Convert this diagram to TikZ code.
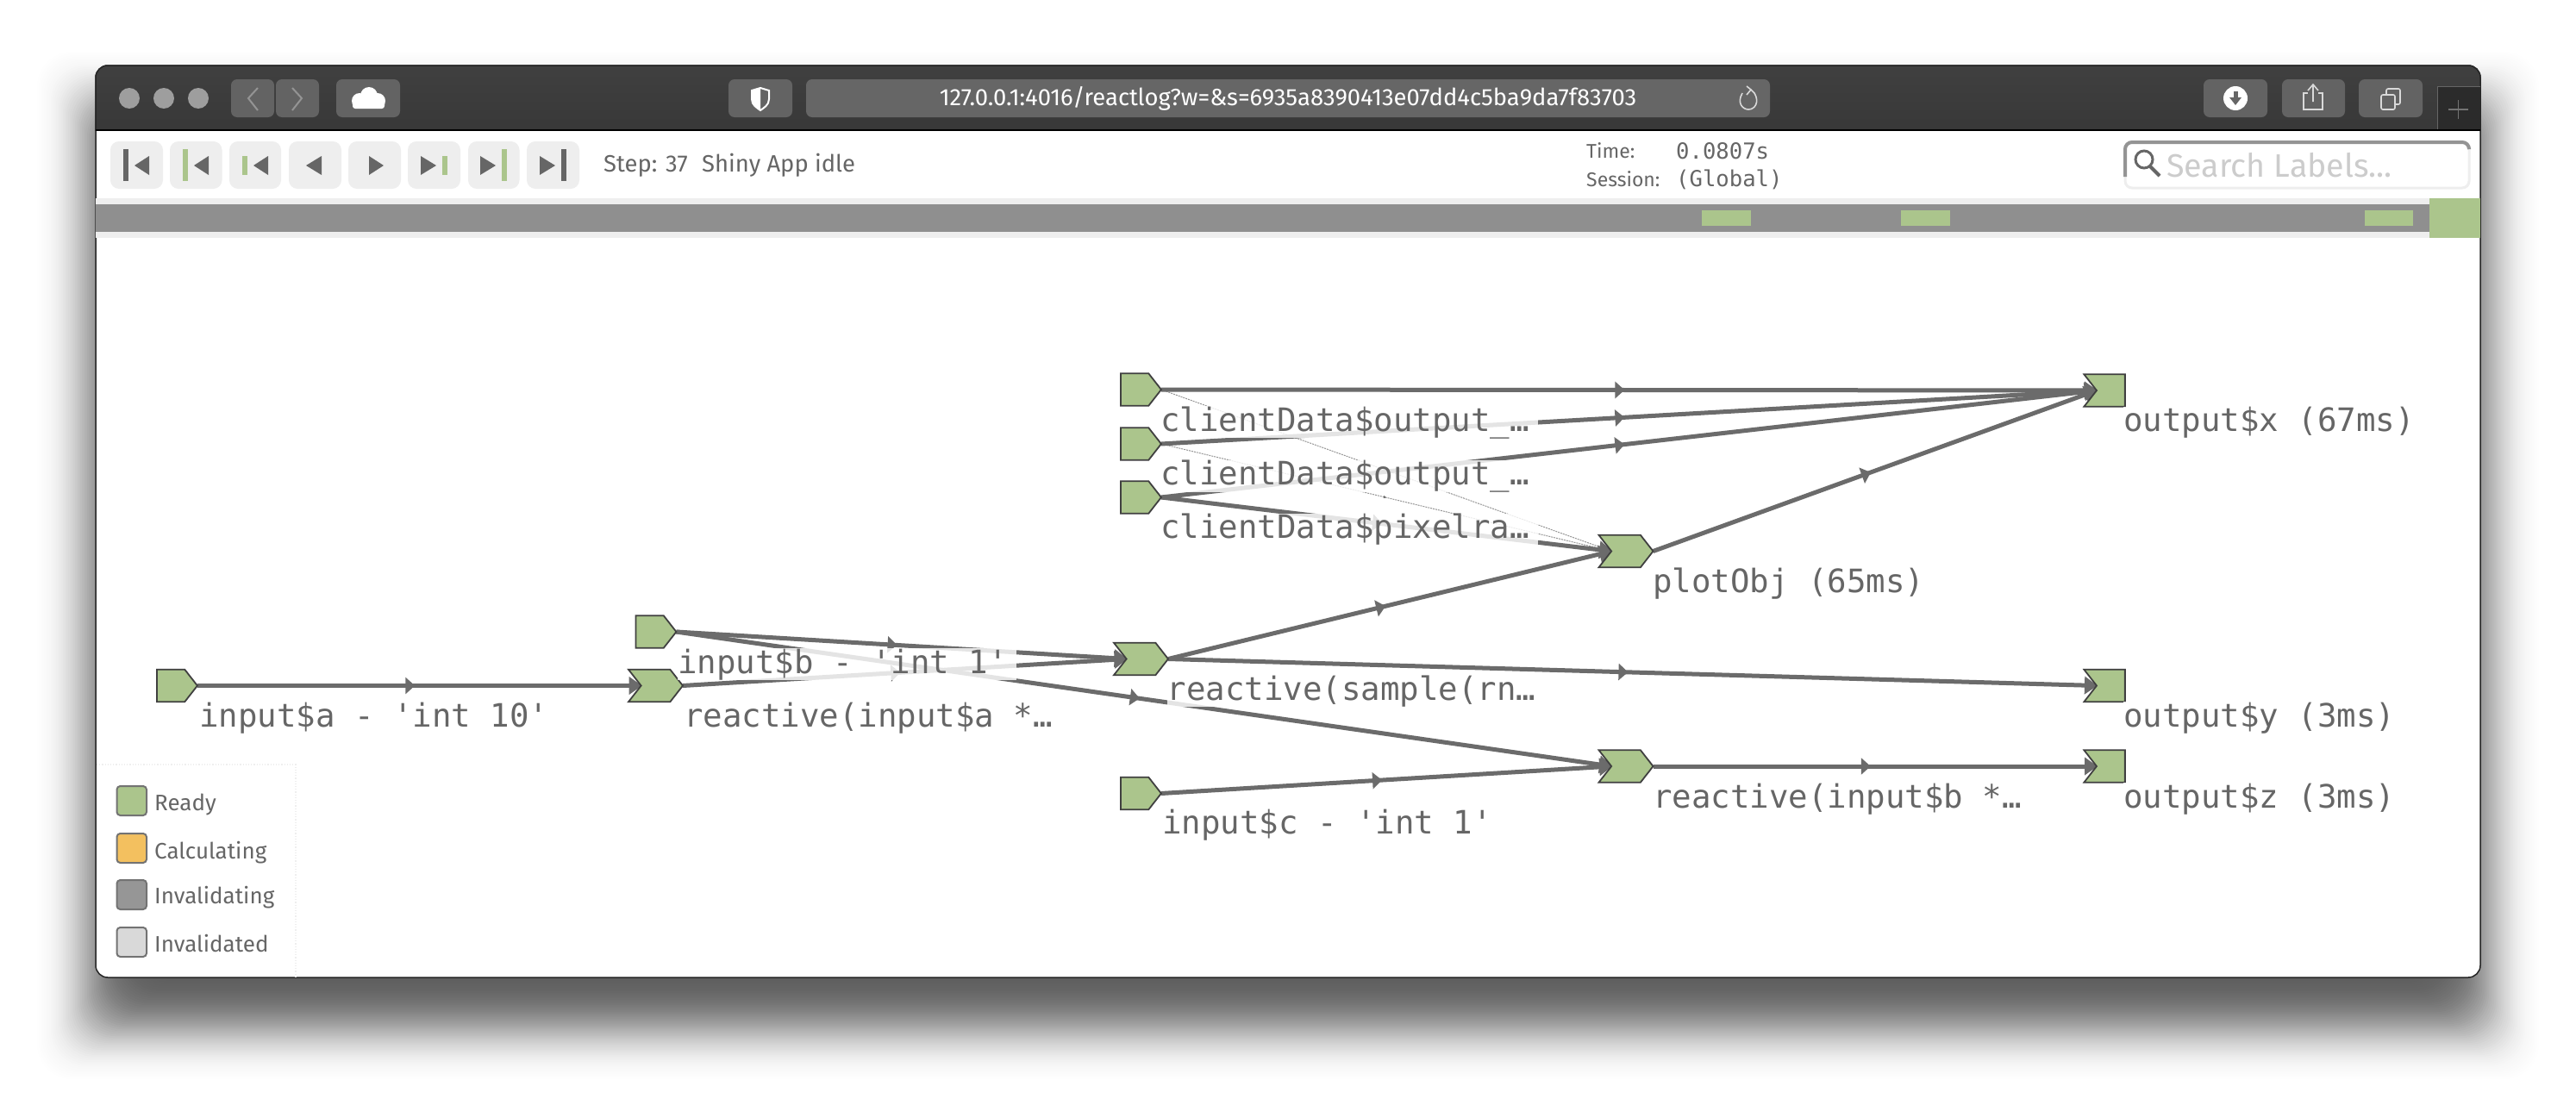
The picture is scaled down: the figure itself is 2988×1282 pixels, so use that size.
\documentclass[tikz,border=0pt]{standalone}
\usepackage{fontspec}
\setmainfont{Fira Sans}
\newfontfamily\uifont{Fira Sans}
\newfontfamily\monofont{DejaVu Sans Mono}
\usetikzlibrary{arrows.meta,shapes.symbols,decorations.markings}
\definecolor{rxgreen}{HTML}{ABC58C}
\definecolor{rxedge}{HTML}{6B6B6B}
\definecolor{rxtext}{HTML}{666666}
\definecolor{rxbtn}{HTML}{EEEEEE}
\definecolor{rxicon}{HTML}{666666}
\definecolor{chromebtn}{HTML}{636363}
\pgfdeclarelayer{bg}
\pgfdeclarelayer{edges}
\pgfsetlayers{bg,edges,main}
\tikzset{
  x=1pt,y=-1pt,
  rxbase/.style={shape=signal,draw=black!75,line width=1.8pt,fill=rxgreen,signal pointer angle=104,minimum height=37.5pt,inner sep=0pt,outer sep=0pt},
  srcnode/.style={rxbase,signal from=nowhere,signal to=east,minimum width=47pt,xshift=-7.4pt},
  midnode/.style={rxbase,signal from=west,signal to=east,minimum width=63pt},
  outnode/.style={rxbase,signal from=west,signal to=nowhere,minimum width=47.5pt,xshift=7.4pt},
  rxlabel/.style={anchor=base west,inner sep=0pt,outer sep=0pt,fill=white,fill opacity=.82,text opacity=1,text=rxtext,text height=29pt,text depth=8pt,font=\monofont\fontsize{37.4}{40}\selectfont},
  thick edge/.style={draw=rxedge,line width=5pt,-{Triangle[length=15pt,width=20pt]},shorten >=-1pt,
    postaction={decorate,decoration={markings,mark=at position .5 with {\pgftransformxshift{-5pt}\arrow[rxedge]{Triangle[length=11pt,width=19pt]}}}}},
  thin edge/.style={draw=rxedge!70,line width=1pt,dash pattern=on 2pt off 1pt,-{Triangle[length=6pt,width=5pt]},
    postaction={decorate,decoration={markings,mark=at position .5 with {\arrow[rxedge]{Triangle[length=3pt,width=3pt]}}}}},
  barbtn/.style={fill=rxbtn,rounded corners=10pt},
  chromeb/.style={fill=chromebtn,rounded corners=7pt},
  swatch/.style={draw=black!55,line width=2pt,rounded corners=4pt},
  legendtxt/.style={anchor=west,inner sep=0pt,text=rxtext,font=\uifont\fontsize{26}{30}\selectfont},
  smalltxt/.style={anchor=west,inner sep=0pt,text=rxtext,font=\uifont\fontsize{23}{26}\selectfont},
  smallmono/.style={anchor=west,inner sep=0pt,text=rxtext,font=\monofont\fontsize{25.6}{28}\selectfont},
}
\begin{document}
\begin{tikzpicture}
\useasboundingbox (0,0) rectangle (2988,1282);
\begin{pgfonlayer}{bg}
% shadow: gaussian-weighted stack
\foreach \e in {90,88,...,-90}{
  \pgfmathsetmacro{\sa}{0.0276*exp(-(\e*\e)/(2*30*30))}
  \fill[black,opacity=\sa,rounded corners=40pt] ({111-\e},{128-\e}) rectangle ({2877+\e},{1184+\e});
}
% window
\fill[white,draw=black!85,line width=1.5pt,rounded corners=14pt] (111,76) rectangle (2877,1134);
\path[top color=black!75,bottom color=black!78,draw=black!85,line width=1.5pt]
  (111,151) [rounded corners=14pt] -- (111,76) -- (2877,76) [sharp corners] -- (2877,151) -- cycle;
\foreach \px in {150,190,230}{ \fill[black!38] (\px,114) circle[radius=12]; }
\fill[chromeb] (268,92) rectangle (318,136);
\fill[chromeb] (320,92) rectangle (370,136);
\draw[black!42,line width=2pt] (299,102) -- (288,114) -- (299,128);
\draw[black!42,line width=2pt] (339,102) -- (350,114) -- (339,128);
\fill[chromeb] (390,92) rectangle (464,136);
\fill[white] (417,117) circle[radius=9];
\fill[white] (428,111) circle[radius=10];
\fill[white] (438,117) circle[radius=9];
\fill[white,rounded corners=3pt] (409,117) rectangle (446,126);
\fill[chromeb] (845,92) rectangle (919,136);
\draw[white,line width=2pt,fill=chromebtn] (882,102) -- (892,105) -- (892,115) .. controls (892,122) and (886,125) .. (882,128) .. controls (878,125) and (872,122) .. (872,115) -- (872,105) -- cycle;
\fill[white] (882,102) -- (872,105) -- (872,115) .. controls (872,122) and (878,125) .. (882,128) -- cycle;
\fill[black!60,rounded corners=7pt] (935,92) rectangle (2053,136);
\draw[white!85!black,line width=1.6pt] (2021,108) .. controls (2014,120) and (2022,127) .. (2028,127) .. controls (2036,127) and (2041,118) .. (2035,108) -- (2031,104);
\draw[white!85!black,line width=1.6pt] (2026,100) -- (2031,104) -- (2026,110);
\fill[chromeb] (2556,92) rectangle (2630,136);
\fill[white] (2593,114) circle[radius=14];
\fill[black!60] (2590.5,106) rectangle (2595.5,114);
\fill[black!60] (2586,113) -- (2600,113) -- (2593,122) -- cycle;
\fill[chromeb] (2647,92) rectangle (2720,136);
\draw[white!85!black,line width=1.6pt] (2677,108) -- (2672,108) -- (2672,127) -- (2694,127) -- (2694,108) -- (2689,108);
\draw[white!85!black,line width=1.6pt] (2683,118) -- (2683,99) (2677,105) -- (2683,98) -- (2689,105);
\fill[chromeb] (2736,92) rectangle (2810,136);
\draw[white!85!black,line width=1.6pt,rounded corners=2pt] (2762,110) rectangle (2778,127);
\draw[white!85!black,line width=1.6pt,rounded corners=2pt] (2768,110) -- (2768,103) -- (2784,103) -- (2784,121) -- (2778,121);
\fill[black!83] (2827,100) rectangle (2877,151);
\draw[black!60,line width=1pt] (2877,100) -- (2827,100) -- (2827,151);
\draw[black!55,line width=1.2pt] (2840,127) -- (2863,127) (2851.5,116) -- (2851.5,138);
\draw[black,line width=1.5pt] (111,151) -- (2877,151);
% toolbar buttons
\foreach \l/\r in {128/189,197/257.5,266/326,335/396,404/465,473/534,543/602.5,611/672}{
  \fill[barbtn] (\l,164) rectangle (\r,219);
}
\fill[rxicon] (143,173) rectangle (149,210);
\fill[rxicon] (173,181) -- (173,203) -- (156,192) -- cycle;
\fill[rxgreen] (212,173) rectangle (218,210);
\fill[rxicon] (242,181) -- (242,203) -- (225,192) -- cycle;
\fill[rxgreen] (281,181) rectangle (287,203);
\fill[rxicon] (311,181) -- (311,203) -- (294,192) -- cycle;
\fill[rxicon] (373,181) -- (373,203) -- (355,192) -- cycle;
\fill[rxicon] (428,181) -- (428,203) -- (445,192) -- cycle;
\fill[rxicon] (488,181) -- (488,203) -- (506,192) -- cycle;
\fill[rxgreen] (513,181) rectangle (519,203);
\fill[rxicon] (557,181) -- (557,203) -- (575,192) -- cycle;
\fill[rxgreen] (582,173) rectangle (588,210);
\fill[rxicon] (626,181) -- (626,203) -- (644,192) -- cycle;
\fill[rxicon] (651,173) rectangle (657,210);
% search box
\draw[rxbtn,line width=3pt,rounded corners=8pt] (2465,165) rectangle (2864,218);
\draw[black!42,line width=4pt,rounded corners=8pt] (2465,205) -- (2465,165) -- (2864,165) -- (2864,172);
\draw[rxicon,line width=3pt] (2487,185) circle[radius=10];
\draw[rxicon,line width=4pt] (2494,193) -- (2505,204);
% timeline
\fill[rxbtn] (111,230) rectangle (2877,276);
\fill[black!44] (111,237) rectangle (2818,269);
\fill[rxgreen] (2818,230) rectangle (2877,276);
\fill[rxgreen] (1974,244) rectangle (2031,262);
\fill[rxgreen] (2204.5,244) rectangle (2262,262);
\fill[rxgreen] (2743,244) rectangle (2799,262);
% legend frame
\draw[rxbtn,line width=1.2pt,dotted] (112,887) -- (343,887) -- (343,1133);
\draw[swatch,fill=rxgreen] (135.5,912) rectangle (170,946);
\draw[swatch,fill={rgb,255:red,243;green,192;blue,95}] (135.5,967) rectangle (170,1001);
\draw[swatch,fill=black!41] (135.5,1021) rectangle (170,1055);
\draw[swatch,fill=black!15] (135.5,1076) rectangle (170,1110);
\end{pgfonlayer}

% chrome text
\node[anchor=center,inner sep=0pt,text=white,font=\uifont\fontsize{27.4}{30}\selectfont] (url) at (1494,114) {127.0.0.1:4016/reactlog?w=\&s=6935a8390413e07dd4c5ba9da7f83703};
\node[legendtxt,font=\uifont\fontsize{27.4}{30}\selectfont] (steptxt) at (700,192) {Step: 37\hspace{.6em}Shiny App idle};
\node[smalltxt] (timelab) at (1840,175) {Time:};
\node[smallmono] (timeval) at (1944,175) {0.0807s};
\node[smalltxt] (seslab) at (1840,208) {Session:};
\node[smallmono] (sesval) at (1944,208) {(Global)};
\node[anchor=west,inner sep=0pt,text=black!20,font=\uifont\fontsize{37.6}{40}\selectfont] (search) at (2513,192) {Search Labels...};
\node[legendtxt] (lgready) at (179,934) {Ready};
\node[legendtxt] (lgcalc) at (179,989) {Calculating};
\node[legendtxt] (lginvg) at (179,1041) {Invalidating};
\node[legendtxt] (lginvd) at (179,1095) {Invalidated};

% graph nodes
\node[srcnode] (ia) at (205.5,795.5) {};
\node[srcnode] (ib) at (761,733) {};
\node[srcnode] (ic) at (1323.5,920.5) {};
\node[srcnode] (c1) at (1323.5,452) {};
\node[srcnode] (c2) at (1323.5,515) {};
\node[srcnode] (c3) at (1323.5,577) {};
\node[midnode] (ra) at (760.5,795.5) {};
\node[midnode] (rs) at (1323.5,764.5) {};
\node[midnode] (po) at (1886,639.5) {};
\node[midnode] (rb) at (1886,889) {};
\node[outnode] (ox) at (2441,453) {};
\node[outnode] (oy) at (2441,795.5) {};
\node[outnode] (oz) at (2441,889) {};

% edges
\begin{pgfonlayer}{edges}
\draw[thin edge] (c1.east) -- (po.west);
\draw[thin edge] (c2.east) -- (po.west);
\draw[thick edge] (c1.east) -- (ox.west);
\draw[thick edge] (c2.east) -- (ox.west);
\draw[thick edge] (c3.east) -- (ox.west);
\draw[thick edge] (c3.east) -- (po.west);
\draw[thick edge] (po.east) -- (ox.west);
\draw[thick edge] (ia.east) -- (ra.west);
\draw[thick edge] (ib.east) -- (rs.west);
\draw[thick edge] (ra.east) -- (rs.west);
\draw[thick edge] (ib.east) -- (rb.west);
\draw[thick edge] (rs.east) -- (po.west);
\draw[thick edge] (rs.east) -- (oy.west);
\draw[thick edge] (ic.east) -- (rb.west);
\draw[thick edge] (rb.east) -- (oz.west);
\end{pgfonlayer}

% graph labels
\node[rxlabel] (lia) at (231,843) {input\$a - 'int 10'\kern10pt};
\node[rxlabel] (lib) at (786,781) {input\$b - 'int 1'\kern10pt};
\node[rxlabel] (lra) at (793,843.5) {reactive(input\$a *…\kern10pt};
\node[rxlabel] (lrs) at (1353.6,812) {reactive(sample(rn…\kern10pt};
\node[rxlabel] (lic) at (1348,967) {input\$c - 'int 1'\kern10pt};
\node[rxlabel] (lc1) at (1346,500) {clientData\$output\_…\kern10pt};
\node[rxlabel] (lc2) at (1346,562.5) {clientData\$output\_…\kern10pt};
\node[rxlabel] (lc3) at (1346,624.5) {clientData\$pixelra…\kern10pt};
\node[rxlabel] (lpo) at (1917,687) {plotObj (65ms)\kern10pt};
\node[rxlabel] (lrb) at (1917,937) {reactive(input\$b *…\kern10pt};
\node[rxlabel] (lox) at (2463,500.5) {output\$x (67ms)\kern10pt};
\node[rxlabel] (loy) at (2463,843) {output\$y (3ms)\kern10pt};
\node[rxlabel] (loz) at (2463,937) {output\$z (3ms)\kern10pt};
\end{tikzpicture}
\end{document}
